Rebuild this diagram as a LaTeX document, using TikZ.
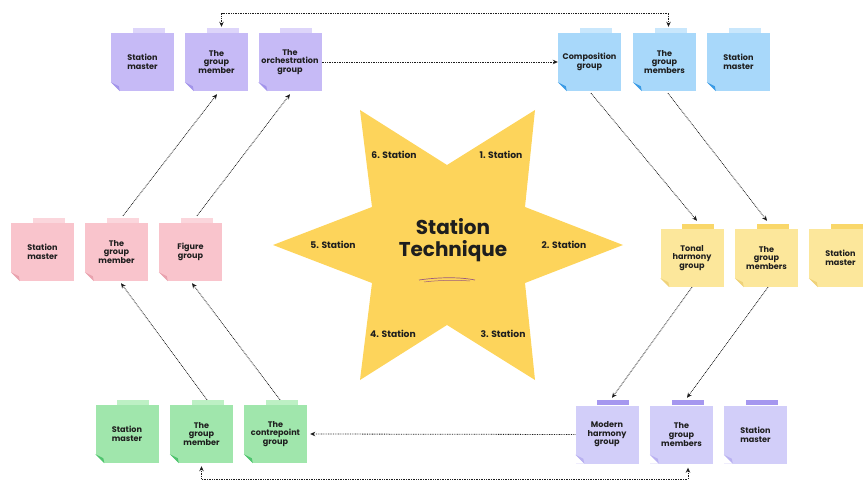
\documentclass[tikz,border=0pt]{standalone}
\usepackage{fontspec}
\setmainfont{Poppins}
\usetikzlibrary{arrows.meta,calc}
\definecolor{ink}{HTML}{1E1E1E}
\definecolor{starfill}{HTML}{FDD45B}
\definecolor{underl}{HTML}{9C5B7E}
\definecolor{purplebody}{HTML}{C6BAF6}\definecolor{purpletab}{HTML}{DDD5FA}\definecolor{purplefold}{HTML}{A395EA}
\definecolor{bluebody}{HTML}{A8D8FA}\definecolor{bluetab}{HTML}{C9E7FC}\definecolor{bluefold}{HTML}{3B9BE5}
\definecolor{pinkbody}{HTML}{F9C4CC}\definecolor{pinktab}{HTML}{FBD6DC}\definecolor{pinkfold}{HTML}{E9A3AF}
\definecolor{yellowbody}{HTML}{FCE79B}\definecolor{yellowtab}{HTML}{F9D76A}\definecolor{yellowfold}{HTML}{EFD27A}
\definecolor{greenbody}{HTML}{A0E6AC}\definecolor{greentab}{HTML}{BDF0C4}\definecolor{greenfold}{HTML}{4FC46E}
\definecolor{lavbody}{HTML}{D2CEF9}\definecolor{lavtab}{HTML}{A597EF}\definecolor{lavfold}{HTML}{B9B1F1}
\tikzset{
  note/.style={minimum width=63pt, minimum height=58pt, inner sep=0pt, text width=63pt, align=center,
    font=\bfseries\fontsize{8.1}{8.6}\selectfont, text=ink},
  conn/.style={draw=ink, line width=0.8pt, dash pattern=on 0.8pt off 0.9pt, -{Stealth[length=5pt,width=4.5pt]}},
  conntwo/.style={draw=ink, line width=0.8pt, dash pattern=on 0.8pt off 0.9pt, {Stealth[length=5pt,width=4.5pt]}-{Stealth[length=5pt,width=4.5pt]}},
  stationlbl/.style={font=\bfseries\fontsize{9.2}{10}\selectfont, text=ink, inner sep=0pt},
}
\newcommand\sticky[5]{%
  \node[note, fill=#4body] (#1) at (#2,#3) {#5};
  \fill[#4tab] ([xshift=-10pt]#1.north) rectangle ([xshift=22pt,yshift=5pt]#1.north);
  \fill[white] (#1.south west) -- ([xshift=9pt]#1.south west) -- ([yshift=9pt]#1.south west) -- cycle;
  \fill[#4fold] ([yshift=9pt]#1.south west) -- ([xshift=9pt]#1.south west) -- ([xshift=8pt,yshift=5pt]#1.south west) -- cycle;
}
\begin{document}
\begin{tikzpicture}[x=1pt,y=-1pt]
\useasboundingbox (0,0) rectangle (863,484);
% star
\fill[starfill] (623,245) -- (525,207) -- (535,110) -- (447,165) -- (360,110) -- (372,207) -- (273,245)
  -- (372,283) -- (360,380) -- (447,325) -- (535,380) -- (525,283) -- cycle;
\node[font=\bfseries\fontsize{20}{22.5}\selectfont, align=center, text=ink] (title) at (453,240) {Station\\Technique};
\draw[underl, line width=0.7pt] (419,280) .. controls (440,277) and (460,277) .. (475,280);
\draw[underl, line width=0.5pt] (424,282) .. controls (440,280) and (458,280) .. (470,281);
\node[stationlbl] (s1) at (501,155) {1. Station};
\node[stationlbl] (s2) at (564,245) {2. Station};
\node[stationlbl] (s3) at (503,334) {3. Station};
\node[stationlbl] (s4) at (393,334) {4. Station};
\node[stationlbl] (s5) at (333,245) {5. Station};
\node[stationlbl] (s6) at (394,155) {6. Station};
% notes
\sticky{a1}{142.5}{62}{purple}{Station\\master}
\sticky{a2}{216.5}{62}{purple}{The\\group\\member}
\sticky{a3}{290}{62}{purple}{The\\orchestration\\group}
\sticky{b1}{589.5}{62}{blue}{Composition\\group}
\sticky{b2}{664.5}{62}{blue}{The\\group\\members}
\sticky{b3}{738.5}{62}{blue}{Station\\master}
\sticky{p1}{42.5}{252}{pink}{Station\\master}
\sticky{p2}{116.5}{252}{pink}{The\\group\\member}
\sticky{p3}{190.5}{252}{pink}{Figure\\group}
\sticky{y1}{692}{258}{yellow}{Tonal\\harmony\\group}
\sticky{y2}{766.5}{258}{yellow}{The\\group\\members}
\sticky{y3}{840.5}{258}{yellow}{Station\\master}
\sticky{g1}{127}{434}{green}{Station\\master}
\sticky{g2}{201.5}{434}{green}{The\\group\\member}
\sticky{g3}{275.5}{434}{green}{The\\contrepoint\\group}
\sticky{l1}{607}{434.5}{lav}{Modern\\harmony\\group}
\sticky{l2}{681.5}{434.5}{lav}{The\\group\\members}
\sticky{l3}{755.5}{434.5}{lav}{Station\\master}
% connectors
\coordinate (toprail) at (440,13);
\coordinate (botrail) at (440,479);
\draw[conn] (a3.east) -- (b1.west);
\draw[conntwo] ([xshift=5pt,yshift=6pt]a2.north) |- (toprail) -| ([xshift=4pt,yshift=6pt]b2.north);
\draw[conntwo] ([yshift=-3pt]g2.south) |- (botrail) -| ([xshift=6.5pt,yshift=-4pt]l2.south);
\draw[conn] (l1.west) -- ([xshift=3pt]g3.east);
\draw[conn] ([xshift=1.5pt,yshift=-2pt]b1.south) -- ([xshift=5pt,yshift=8pt]y1.north);
\draw[conn] ([xshift=3.5pt,yshift=-2pt]b2.south) -- ([xshift=0.5pt,yshift=8pt]y2.north);
\draw[conn] (y1.south) -- ([xshift=5pt,yshift=7.5pt]l1.north);
\draw[conn] ([xshift=1.5pt]y2.south) -- ([xshift=5.5pt,yshift=7.5pt]l2.north);
\draw[conn] ([xshift=5.5pt,yshift=5pt]g2.north) -- ([xshift=4.5pt,yshift=-2pt]p2.south);
\draw[conn] ([xshift=4.5pt,yshift=5pt]g3.north) -- ([xshift=1.5pt,yshift=-2pt]p3.south);
\draw[conn] ([xshift=6.5pt,yshift=7pt]p2.north) -- ([xshift=0.5pt,yshift=-3pt]a2.south);
\draw[conn] ([xshift=6.5pt,yshift=7pt]p3.north) -- ([yshift=-3pt]a3.south);
\end{tikzpicture}
\end{document}
